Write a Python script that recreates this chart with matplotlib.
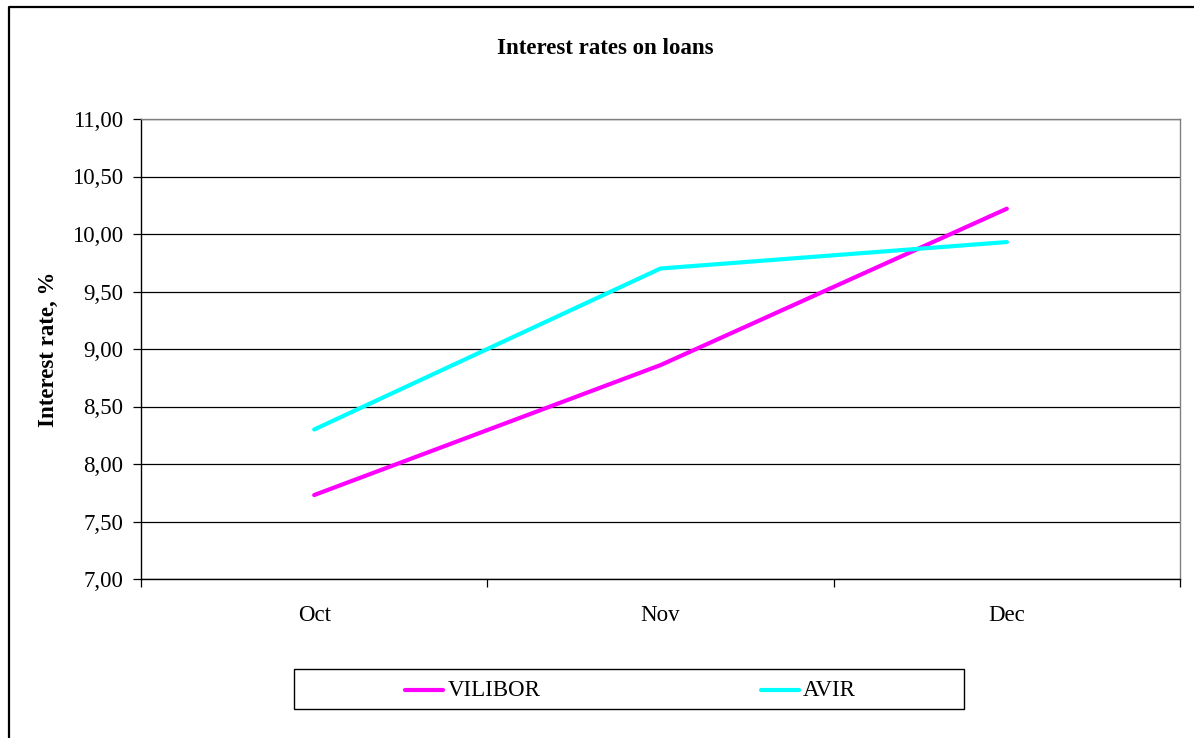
import numpy as np
from matplotlib import pyplot as plt
from matplotlib.lines import Line2D
from matplotlib.patches import Rectangle

months = ["Oct", "Nov", "Dec"]
vilibor = [7.73, 8.86, 10.22]
avir = [8.30, 9.70, 9.93]

plt.rcParams['font.family'] = ['Liberation Serif', 'DejaVu Serif']
FS = 16.5

W, H = 1194, 738
fig = plt.figure(figsize=(W / 100, H / 100), dpi=100)

# plot area in pixels: x 141..1180, y 119..579
ax = fig.add_axes([141 / W, 1 - 579 / H, (1180 - 141) / W, (579 - 119) / H])

xs = np.arange(len(months))
ax.plot(xs, vilibor, color="#ff00ff", lw=3.0, solid_capstyle="round", label="VILIBOR")
ax.plot(xs, avir, color="#00ffff", lw=3.0, solid_capstyle="round", label="AVIR")

ax.set_xlim(-0.5, len(months) - 0.5)
ax.set_ylim(7, 11)
ax.set_yticks(np.arange(7, 11.01, 0.5))
ax.set_yticklabels([("%.2f" % v).replace(".", ",") for v in np.arange(7, 11.01, 0.5)])
ax.yaxis.grid(True, color="black", lw=0.9)
ax.set_axisbelow(True)

ax.set_xticks(xs)
ax.set_xticklabels(months)
ax.set_xticks(np.arange(-0.5, len(months), 1.0), minor=True)
ax.tick_params(axis="x", which="major", length=0, pad=19, labelsize=FS)
ax.tick_params(axis="x", which="minor", length=6, width=0.9, direction="out")
ax.tick_params(axis="y", length=6, width=0.9, pad=7, labelsize=FS)

for s in ["left", "bottom"]:
    ax.spines[s].set_color("black")
    ax.spines[s].set_linewidth(1.0)
for s in ["top", "right"]:
    ax.spines[s].set_color("#808080")
    ax.spines[s].set_linewidth(1.0)

fig.text(605 / W, 1 - 48 / H, "Interest rates on loans", ha="center", va="center",
         fontsize=FS, fontweight="bold")
fig.text(48 / W, 1 - 349 / H, "Interest rate, %", ha="center", va="center",
         rotation=90, fontsize=FS, fontweight="bold")

# legend box
fig.add_artist(Rectangle((294 / W, 1 - 709 / H), (964 - 294) / W, 40 / H,
                         transform=fig.transFigure, fill=False, ec="black", lw=1.0))
ly = 1 - 690 / H
for (x0, x1, tx), name, col in [((405, 443, 448), "VILIBOR", "#ff00ff"),
                                ((761, 799, 803), "AVIR", "#00ffff")]:
    fig.add_artist(Line2D([x0 / W, x1 / W], [ly, ly], transform=fig.transFigure,
                          color=col, lw=3.0, solid_capstyle="round"))
    fig.text(tx / W, ly, name, ha="left", va="center", fontsize=FS)

# outer frame (cut at right and bottom)
fig.add_artist(Line2D([8.5 / W, 8.5 / W, 1.0], [0.0, 1 - 7 / H, 1 - 7 / H],
                      transform=fig.transFigure, color="black", lw=1.6))

fig.savefig("out.png", dpi=100)
